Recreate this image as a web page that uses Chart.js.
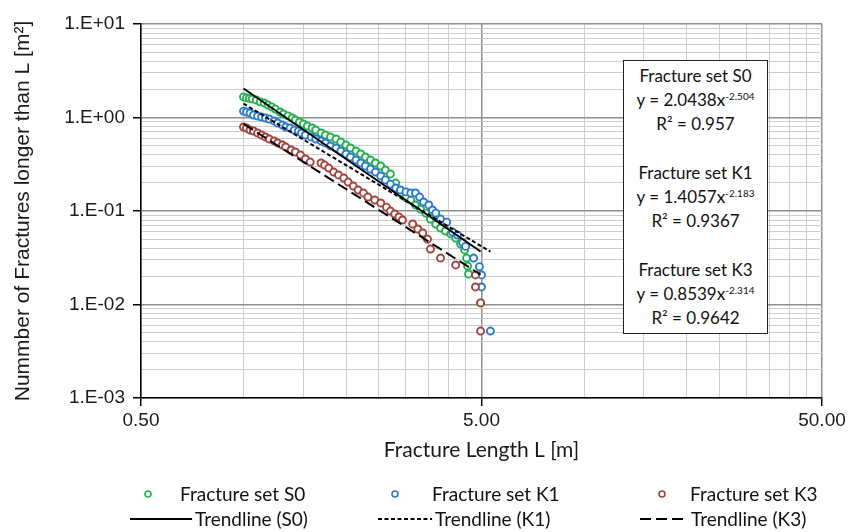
<!doctype html>
<html>
<head>
<meta charset="utf-8">
<title>Fracture length distribution</title>
<script src="https://cdn.jsdelivr.net/npm/chart.js@4.4.1/dist/chart.umd.min.js"></script>
<style>
  html,body{margin:0;padding:0;background:#fff;}
  #wrap{position:relative;width:859px;height:532px;overflow:hidden;}
  #plot{position:absolute;left:0;top:0;}
  #eqBox{position:absolute;left:623px;top:60px;width:145px;height:274px;box-sizing:border-box;
         border:1px solid #222;background:#fff;padding-top:3px;
         font-family:Lato,"Open Sans",sans-serif;font-size:17px;line-height:24.2px;
         text-align:center;color:#111;}
  #eqBox sup{font-size:10px;vertical-align:6px;line-height:0;}
  .lgText{position:absolute;font-family:Lato,"Open Sans",sans-serif;font-size:19px;
          line-height:22px;color:#111;white-space:nowrap;}
  .lgMark{position:absolute;}
</style>
</head>
<body>
<div id="wrap">
  <canvas id="plot" width="859" height="532"></canvas>
  <div id="eqBox"></div>
  <div id="legend"></div>
</div>

<script>
// ---- data: cumulative fracture count per m² vs. fracture length ----
const seriesNames = ['Fracture set S0', 'Fracture set K1', 'Fracture set K3'];
const trendNames  = ['Trendline (S0)', 'Trendline (K1)', 'Trendline (K3)'];

const s0Length = [1.00,1.02,1.04,1.06,1.09,1.12,1.15,1.18,1.21,1.24,1.28,1.31,1.35,1.39,1.42,1.46,1.50,1.54,1.59,1.63,
                  1.69,1.74,1.80,1.87,1.93,2.00,2.06,2.14,2.21,2.28,2.36,2.44,2.53,2.61,2.70,2.80,2.89,3.00,3.10,3.20,
                  3.31,3.43,3.54,3.67,3.79,3.92,4.06,4.20,4.34,4.46,4.52,4.55,4.58,4.97];
const s0Count  = [1.66,1.62,1.60,1.58,1.54,1.47,1.43,1.36,1.30,1.23,1.145,1.09,1.04,0.988,0.94,0.895,0.852,0.811,0.772,0.735,
                  0.683,0.650,0.619,0.589,0.547,0.508,0.472,0.438,0.407,0.378,0.351,0.326,0.303,0.274,0.249,0.199,0.156,0.138,0.131,0.116,
                  0.105,0.095,0.082,0.0725,0.0658,0.0611,0.0568,0.0514,0.0443,0.0383,0.0314,0.0258,0.0212,0.0104];

const k1Length = [1.00,1.02,1.045,1.07,1.10,1.13,1.16,1.19,1.23,1.26,1.30,1.33,1.37,1.41,1.45,1.48,1.52,1.58,1.63,1.69,
                  1.74,1.80,1.87,1.93,2.00,2.06,2.14,2.21,2.28,2.36,2.44,2.53,2.61,2.70,2.80,2.89,3.00,3.10,3.20,3.29,
                  3.38,3.50,3.59,3.67,3.79,3.95,4.11,4.25,4.40,4.49,4.74,4.93,5.00,5.00,5.31];
const k1Count  = [1.17,1.145,1.117,1.063,1.038,1.012,0.988,0.964,0.918,0.873,0.831,0.791,0.772,0.735,0.717,0.683,0.650,0.619,0.589,0.561,
                  0.534,0.496,0.472,0.438,0.407,0.378,0.351,0.326,0.303,0.281,0.261,0.237,0.215,0.194,0.176,0.168,0.160,0.156,0.156,0.141,
                  0.125,0.116,0.1025,0.095,0.082,0.076,0.0596,0.0554,0.046,0.0418,0.0314,0.0254,0.0207,0.0154,0.0052];

const k3Length = [1.00,1.02,1.045,1.07,1.10,1.13,1.16,1.19,1.23,1.26,1.30,1.33,1.38,1.42,1.47,1.52,1.57,1.69,1.73,1.78,
                  1.84,1.90,1.97,2.03,2.10,2.17,2.25,2.32,2.43,2.53,2.63,2.70,2.78,2.86,2.93,3.14,3.25,3.36,3.47,3.54,
                  3.79,4.20,4.80,4.80,4.97,4.97];
const k3Count  = [0.791,0.772,0.735,0.717,0.683,0.650,0.619,0.589,0.561,0.534,0.508,0.484,0.449,0.428,0.397,0.360,0.334,0.326,0.310,0.288,
                  0.261,0.243,0.225,0.204,0.185,0.168,0.156,0.141,0.131,0.122,0.110,0.0999,0.0929,0.0864,0.0801,0.0726,0.0642,0.0582,0.050,0.0392,
                  0.0314,0.0265,0.0207,0.0154,0.0104,0.0052];

// power-law fits y = a * x^b
const trendCoef = [2.0438, 1.4057, 0.8539];
const trendExp  = [-2.504, -2.183, -2.314];
const trendR2   = ['0.957', '0.9367', '0.9642'];

// axes
const xMajorTicks = [0.5, 5, 50];
const xTickLabels = ['0.50', '5.00', '50.00'];
const yMajorTicks = [0.001, 0.01, 0.1, 1, 10];
const yTickLabels = ['1.E-03', '1.E-02', '1.E-01', '1.E+00', '1.E+01'];

const setColors = ['#22b24c', '#2a7bd0', '#a4433d'];
const trendDash = [[], [4, 2.5], [11, 5]];

// ---- helpers ----
const sameLog = (a, b) => Math.abs(Math.log10(a) - Math.log10(b)) < 1e-6;
const isMajor = (v, majors) => majors.some(m => sameLog(v, m));
const labelFor = (v, majors, labels) => {
  const i = majors.findIndex(m => sameLog(v, m));
  return i < 0 ? '' : labels[i];
};
// minor grid at 1..9 times each major step
const minorSteps = majors => {
  const out = [];
  for (let i = 0; i < majors.length - 1; i++)
    for (let k = 1; k < 10; k++) out.push(+(majors[i] * k).toPrecision(6));
  out.push(majors[majors.length - 1]);
  return out;
};
const xTickValues = minorSteps(xMajorTicks);
const yTickValues = minorSteps(yMajorTicks);

const pts = (xs, ys) => xs.map((x, i) => ({x, y: ys[i]}));
const trendLine = (i, xs) => [Math.min(...xs), Math.max(...xs)]
  .map(x => ({x, y: trendCoef[i] * Math.pow(x, trendExp[i])}));

const lengths = [s0Length, k1Length, k3Length];
const counts  = [s0Count, k1Count, k3Count];

const pointSets = seriesNames.map((name, i) => ({
  label: name,
  data: pts(lengths[i], counts[i]),
  borderColor: setColors[i],
  backgroundColor: '#ffffff',
  pointRadius: 3.5,
  pointBorderWidth: 1.9,
  showLine: false,
  order: 5 - i
}));
const trendSets = trendNames.map((name, i) => ({
  label: name,
  data: trendLine(i, lengths[i]),
  borderColor: '#000',
  borderWidth: 2,
  borderDash: trendDash[i],
  pointRadius: 0,
  showLine: true,
  fill: false,
  order: 0
}));

const gridStyle = majors => ({
  color: c => isMajor(c.tick.value, majors) ? '#8e8e8e' : '#cdcdcd',
  lineWidth: c => isMajor(c.tick.value, majors) ? 1.5 : 1,
  tickColor: c => isMajor(c.tick.value, majors) ? '#000' : 'rgba(0,0,0,0)',
  tickLength: 8,
  drawTicks: true
});

const tickFont = {family: '"Liberation Sans", Arial, sans-serif', size: 19};

new Chart(document.getElementById('plot'), {
  type: 'scatter',
  data: {datasets: [...pointSets, ...trendSets]},
  options: {
    responsive: false,
    animation: false,
    devicePixelRatio: 1,
    layout: {padding: {top: 24, right: 37, left: 0, bottom: 0}},
    plugins: {legend: {display: false}, tooltip: {enabled: false}},
    scales: {
      x: {
        type: 'logarithmic', min: 0.5, max: 50,
        afterBuildTicks: a => { a.ticks = xTickValues.map(v => ({value: v})); },
        afterFit: s => { s.height = 134; },
        grid: gridStyle(xMajorTicks),
        border: {color: '#000', width: 1.5},
        ticks: {autoSkip: false, maxRotation: 0, padding: 3, color: '#1a1a1a', font: tickFont,
                callback: v => labelFor(v, xMajorTicks, xTickLabels)},
        title: {display: true, text: 'Fracture Length L [m]', color: '#1a1a1a',
                font: {family: 'Lato, "Open Sans", sans-serif', size: 21},
                padding: {top: 4, bottom: 69}}
      },
      y: {
        type: 'logarithmic', min: 0.001, max: 10,
        afterBuildTicks: a => { a.ticks = yTickValues.map(v => ({value: v})); },
        afterFit: s => { s.width = 141; },
        grid: gridStyle(yMajorTicks),
        border: {color: '#000', width: 1.5},
        ticks: {autoSkip: false, padding: 8, color: '#1a1a1a', font: tickFont,
                callback: v => labelFor(v, yMajorTicks, yTickLabels)},
        title: {display: true, text: 'Nummber of Fractures longer than L [m²]', color: '#1a1a1a',
                font: {family: '"Liberation Sans", Arial, sans-serif', size: 21},
                padding: {top: 11, bottom: 0}}
      }
    }
  }
});

// ---- equation box ----
const fmtExp = b => (b < 0 ? '-' : '') + Math.abs(b).toFixed(3);
document.getElementById('eqBox').innerHTML = seriesNames.map((name, i) =>
  `<div>${name}</div><div>y = ${trendCoef[i].toFixed(4)}x<sup>${fmtExp(trendExp[i])}</sup></div>` +
  `<div>R² = ${trendR2[i]}</div>`).join('<div>&nbsp;</div>');

// ---- legend (two rows: markers, then trendlines) ----
const legendPos = [
  {mark: 148, text: 180, line: [130, 192], text2: 195},
  {mark: 395, text: 432, line: [378, 432], text2: 435},
  {mark: 662, text: 690, line: [640, 688], text2: 691}
];
const rowY = [494, 519];
const legend = document.getElementById('legend');
seriesNames.forEach((name, i) => {
  const p = legendPos[i];
  legend.insertAdjacentHTML('beforeend',
    `<svg class="lgMark" style="left:${p.mark - 5}px;top:${rowY[0] - 5}px" width="10" height="10">
       <circle cx="5" cy="5" r="3" fill="#fff" stroke="${setColors[i]}" stroke-width="1.6"/></svg>
     <div class="lgText" style="left:${p.text}px;top:${rowY[0] - 11}px">${name}</div>`);
  const w = p.line[1] - p.line[0];
  legend.insertAdjacentHTML('beforeend',
    `<svg class="lgMark" style="left:${p.line[0]}px;top:${rowY[1] - 3}px" width="${w}" height="6">
       <line x1="0" y1="3" x2="${w}" y2="3" stroke="#000" stroke-width="2"
             stroke-dasharray="${trendDash[i].join(',') || 'none'}"/></svg>
     <div class="lgText" style="left:${p.text2}px;top:${rowY[1] - 11}px">${trendNames[i]}</div>`);
});
</script>
</body>
</html>
